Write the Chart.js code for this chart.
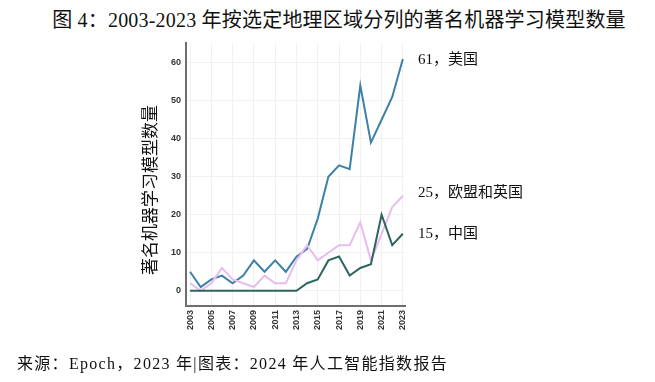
<!DOCTYPE html>
<html>
<head>
<meta charset="utf-8">
<script src="https://cdn.jsdelivr.net/npm/chart.js@4/dist/chart.umd.min.js"></script>
<style>
  html, body { margin: 0; padding: 0; background: #fff; }
  #wrap { position: relative; width: 655px; height: 382px; overflow: hidden; }
  #chart { position: absolute; left: 0; top: 0; }
  .title { position: absolute; left: 0; width: 678px; text-align: center; top: 4px;
    font-family: "Liberation Serif", "Noto Sans CJK SC", serif; font-size: 20px; color: #111; white-space: nowrap; letter-spacing: 0.2px; }
  .foot { position: absolute; left: 17px; top: 350px;
    font-family: "Liberation Serif", "Noto Sans CJK SC", serif; font-size: 16px; color: #111; white-space: nowrap; letter-spacing: 1.3px; }
</style>
</head>
<body>
<div id="wrap">
  <div class="title">图 4：2003-2023 年按选定地理区域分列的著名机器学习模型数量</div>
  <canvas id="chart" width="655" height="382"></canvas>
  <div class="foot">来源：Epoch，2023 年|图表：2024 年人工智能指数报告</div>
</div>
<script>
const years = [2003,2004,2005,2006,2007,2008,2009,2010,2011,2012,2013,2014,2015,2016,2017,2018,2019,2020,2021,2022,2023];
const usModels =   [5,1,3,4,2,4,8,5,8,5,9,11,19,30,33,32,54,39,45,51,61];
const euUkModels = [2,0,2,6,3,2,1,4,2,2,8,12,8,10,12,12,18,8,15,22,25];
const chinaModels =[0,0,0,0,0,0,0,0,0,0,0,2,3,8,9,4,6,7,20,12,15];
const seriesNames = ['美国', '欧盟和英国', '中国'];
const xTickYears = [2003,2005,2007,2009,2011,2013,2015,2017,2019,2021,2023];
const yTickValues = [0,10,20,30,40,50,60];
const yAxisTitle = '著名机器学习模型数量';

const colors = ['#3d80a8', '#e6bdee', '#2f6560'];
const seriesData = [usModels, euUkModels, chinaModels];

const toPts = arr => arr.map((v, i) => ({ x: years[i], y: v }));

const endLabels = {
  id: 'endLabels',
  afterDatasetsDraw(chart) {
    const { ctx, scales: { x, y }, chartArea } = chart;
    ctx.save();
    ctx.font = '15px "Liberation Serif", "Noto Sans CJK SC", serif';
    ctx.fillStyle = '#111';
    ctx.textBaseline = 'middle';
    ctx.textAlign = 'left';
    const offs = [1, -3, 0];
    seriesData.forEach((arr, i) => {
      const last = arr[arr.length - 1];
      const py = y.getPixelForValue(last) + offs[i];
      ctx.fillText(last + '，' + seriesNames[i], chartArea.right + 13, py);
    });
    // y axis title
    ctx.translate(152, 190);
    ctx.rotate(-Math.PI / 2);
    ctx.textAlign = 'center';
    ctx.font = '17px "Liberation Serif", "Noto Sans CJK SC", serif';
    ctx.fillText(yAxisTitle, 0, 0);
    ctx.restore();
  }
};

new Chart(document.getElementById('chart'), {
  type: 'line',
  data: {
    datasets: seriesData.map((arr, i) => ({
      label: seriesNames[i],
      data: toPts(arr),
      borderColor: colors[i],
      backgroundColor: colors[i],
      borderWidth: 2,
      pointRadius: 0,
      tension: 0,
      fill: false
    })).reverse()
  },
  options: {
    responsive: false,
    animation: false,
    layout: { padding: { left: 0, right: 250, top: 43, bottom: 0 } },
    plugins: { legend: { display: false }, tooltip: { enabled: false } },
    scales: {
      x: {
        type: 'linear',
        min: 2002.62,
        max: 2023.2,
        afterBuildTicks: s => { s.ticks = xTickYears.map(v => ({ value: v })); },
        afterFit: s => { s.height = 76; },
        ticks: {
          minRotation: 90, maxRotation: 90, autoSkip: false, padding: 4,
          color: '#333',
          font: { family: '"Liberation Sans", Arial, sans-serif', size: 9, weight: 'bold' },
          callback: v => String(v)
        },
        grid: { color: '#f1f1f1', lineWidth: 1, drawTicks: false },
        border: { color: '#6e6e6e', width: 2 }
      },
      y: {
        type: 'linear',
        min: -4,
        max: 65.2,
        afterBuildTicks: s => { s.ticks = yTickValues.map(v => ({ value: v })); },
        afterFit: s => { s.width = 186; },
        ticks: {
          padding: 5, color: '#333',
          font: { family: '"Liberation Sans", Arial, sans-serif', size: 9, weight: 'bold' }
        },
        grid: { color: '#f1f1f1', lineWidth: 1, drawTicks: false },
        border: { color: '#6e6e6e', width: 2 }
      }
    }
  },
  plugins: [endLabels]
});
</script>
</body>
</html>
